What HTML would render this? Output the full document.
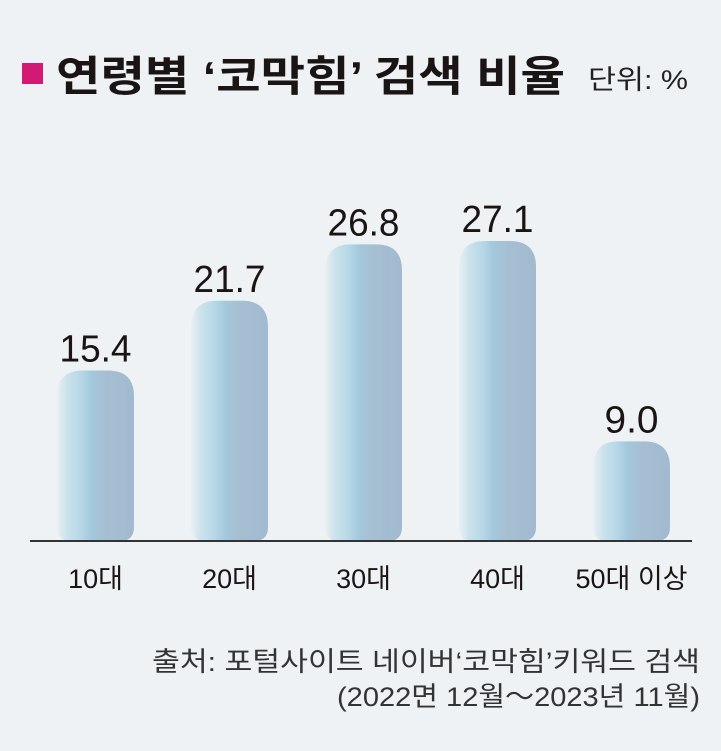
<!DOCTYPE html>
<html><head><meta charset="utf-8"><style>
body{margin:0;background:#eef2f5;}
svg{display:block;font-family:"Liberation Sans","Noto Sans CJK KR",sans-serif;}
</style></head><body>
<svg width="721" height="751" viewBox="0 0 721 751">
<defs>
<linearGradient id="bg" x1="0" x2="1" y1="0" y2="0">
<stop offset="0" stop-color="#eaf0f3"/>
<stop offset="0.12" stop-color="#cde3ec"/>
<stop offset="0.3" stop-color="#b7d8e7"/>
<stop offset="0.45" stop-color="#a3c8dc"/>
<stop offset="0.6" stop-color="#a6bfd3"/>
<stop offset="1" stop-color="#a2bacf"/>
</linearGradient>
</defs>
<rect x="0" y="0" width="721" height="751" fill="#eef2f5"/>
<rect x="22" y="63" width="21" height="21" fill="#d21a74"/>
<text x="56" y="91" font-size="42" font-weight="bold" fill="#1a1414" textLength="509" lengthAdjust="spacingAndGlyphs">연령별 ‘코막힘’ 검색 비율</text>
<text x="588" y="89" font-size="27" fill="#222" textLength="100" lengthAdjust="spacingAndGlyphs">단위: %</text>
<g id="bars"></g>
<line x1="30" y1="541" x2="692" y2="541" stroke="#333" stroke-width="2"/>
<text x="700" y="671" font-size="27" fill="#333" text-anchor="end" textLength="548" lengthAdjust="spacingAndGlyphs">출처: 포털사이트 네이버‘코막힘’키워드 검색</text>
<text x="700" y="706" font-size="27" fill="#333" text-anchor="end" textLength="363" lengthAdjust="spacingAndGlyphs">(2022면 12월～2023년 11월)</text>
</svg>
<script>
const categories=["10대","20대","30대","40대","50대 이상"];
const values=[15.4,21.7,26.8,27.1,9.0];
const valueLabels=["15.4","21.7","26.8","27.1","9.0"];
const baseY=541, scale=11.07, x0=57, step=134, bw=77;
function yScale(v){return baseY-v*scale;}
function xScale(i){return x0+i*step;}
const g=document.getElementById('bars');
const ns="http://www.w3.org/2000/svg";
values.forEach((v,i)=>{
  const x=xScale(i), y=yScale(v), r=26, rb=14;
  const p=document.createElementNS(ns,'path');
  p.setAttribute('d',`M${x},${y+r} Q${x},${y} ${x+r},${y} L${x+bw-r},${y} Q${x+bw},${y} ${x+bw},${y+r} L${x+bw},${baseY-rb} Q${x+bw},${baseY} ${x+bw-rb},${baseY} L${x+rb},${baseY} Q${x},${baseY} ${x},${baseY-rb} Z`);
  p.setAttribute('fill','url(#bg)');
  
  
  g.appendChild(p);
  const t=document.createElementNS(ns,'text');
  t.setAttribute('x',x+bw/2);t.setAttribute('y',y-9);
  t.setAttribute('font-size','38');t.setAttribute('fill','#1a1414');
  t.setAttribute('text-anchor','middle');
  t.setAttribute('textLength', valueLabels[i].length*18);
  t.setAttribute('lengthAdjust','spacingAndGlyphs');
  t.textContent=valueLabels[i];
  
  
  g.appendChild(t);
  const c=document.createElementNS(ns,'text');
  c.setAttribute('x',x+bw/2);c.setAttribute('y',588);
  c.setAttribute('font-size','27');c.setAttribute('fill','#1a1414');
  c.setAttribute('text-anchor','middle');
  c.textContent=categories[i];
  
  
  g.appendChild(c);
});
</script>
</body></html>
